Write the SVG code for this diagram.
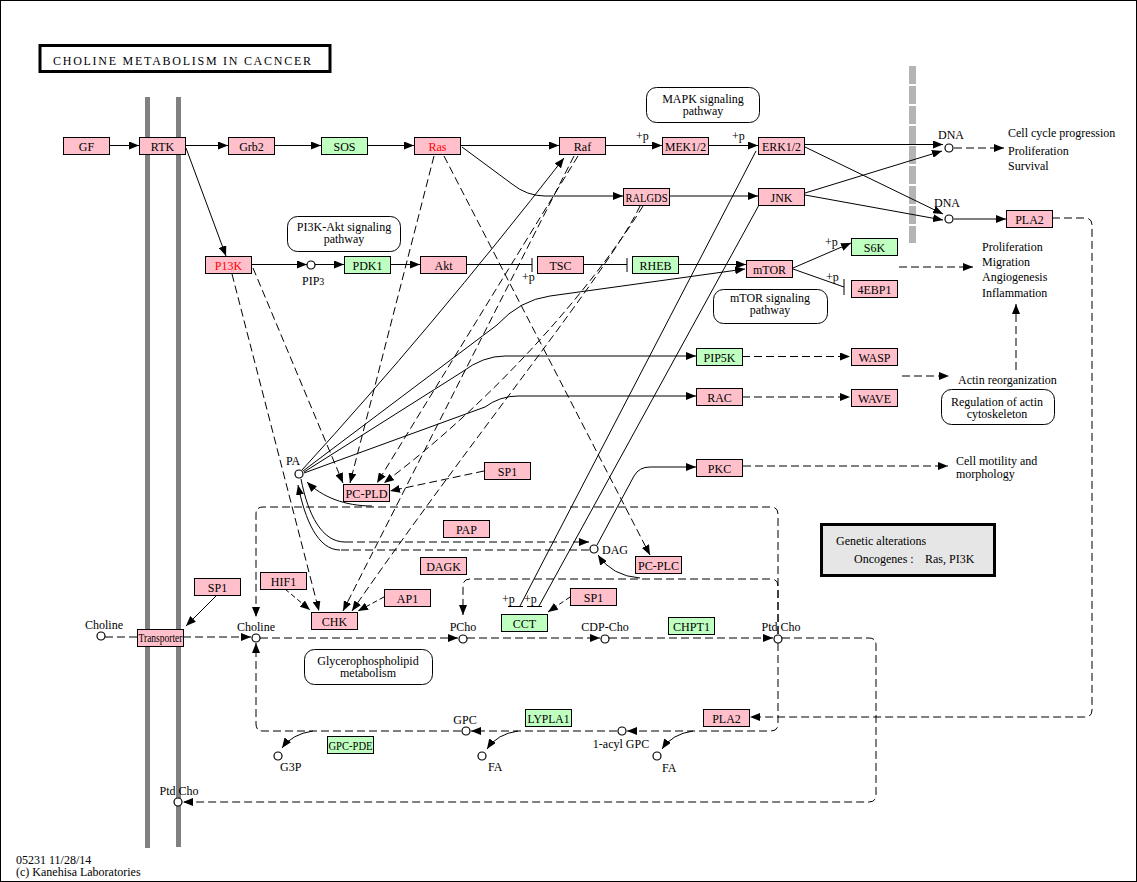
<svg xmlns="http://www.w3.org/2000/svg" width="1137" height="882" viewBox="0 0 1137 882">
<defs>
<marker id="a" viewBox="0 0 10 8" refX="10" refY="4" markerWidth="10" markerHeight="8" orient="auto" markerUnits="userSpaceOnUse"><path d="M0,0L10,4L0,8z" fill="#000"/></marker>
</defs>
<style>
text{font-family:"Liberation Serif","Times New Roman",serif;font-size:12px;fill:#000}
.n rect{stroke:#000;stroke-width:1}
.p rect{fill:#ffc0cb}
.q rect{fill:#bfffbf}
.n text,.pw text,.cl{text-anchor:middle}
.c path{fill:none;stroke:#000;stroke-width:1}
.c .d{stroke-dasharray:8,4}
.c .s{stroke-dasharray:5,3}
.c .ar{marker-end:url(#a)}
.pw rect{fill:#fff;stroke:#000;stroke-width:1}
.cp circle{fill:#fff;stroke:#000;stroke-width:1.2}
.red{fill:#f00}
</style>
<rect x="0.5" y="0.5" width="1136" height="881" fill="#fff" stroke="#000"/>
<g id="membranes">
<rect x="145" y="97" width="5" height="751" fill="#808080"/>
<rect x="176" y="97" width="5" height="750" fill="#808080"/>
<line x1="912.5" y1="66" x2="912.5" y2="243" stroke="#b4b4b4" stroke-width="7" stroke-dasharray="18,2"/>
</g>
<g id="title"><rect x="40" y="45.5" width="290" height="26" fill="#fff" stroke="#000" stroke-width="3"/><text x="53" y="65" font-size="13" textLength="258" lengthAdjust="spacing">CHOLINE METABOLISM IN CACNCER</text></g>
<g id="connectors" class="c">
<path class="ar" d="M109,145.5H139"/>
<path class="ar" d="M185,145.5H228"/>
<path class="ar" d="M274,145.5H321"/>
<path class="ar" d="M367,145.5H414"/>
<path class="ar" d="M460,145.5H559"/>
<path class="ar" d="M605,145.5H662"/>
<path class="ar" d="M708,145.5H758"/>
<path class="ar" d="M804,144.5H943"/>
<path class="ar" d="M805,147L943,214"/>
<path class="ar" d="M805,193L942,151"/>
<path class="ar" d="M805,195L943,220"/>
<path class="d ar" d="M954,148H1004"/>
<path class="ar" d="M954,219H1006"/>
<path class="ar" d="M462,147L512,184Q527,196 545,196H623"/>
<path class="ar" d="M669,196H758"/>
<path class="ar" d="M186,148L226,256"/>
<path class="ar" d="M251,264.5H307"/>
<path class="ar" d="M315,264.5H344"/>
<path class="ar" d="M390,264.5H420"/>
<path d="M466,264.5H532M532,258V272"/>
<path d="M583,264.5H627M627,258V272"/>
<path class="ar" d="M678,264.5H746"/>
<path class="ar" d="M793,268L851,243"/>
<path d="M793,269L844,287M844,279V295"/>
<path class="d ar" d="M899,267H973"/>
<path class="d ar" d="M1016,370V304"/>
<path class="d ar" d="M742,356.5H850"/>
<path class="d ar" d="M742,397H850"/>
<path class="d ar" d="M902,376H949"/>
<path class="d ar" d="M743,466H948"/>
<path class="d ar" d="M253,268L343,483"/>
<path class="d ar" d="M232,274L319,611"/>
<path class="d ar" d="M434,156L350,483"/>
<path class="d ar" d="M444,156L650,555"/>
<path class="d ar" d="M578,156L377,483"/>
<path class="d ar" d="M574,156L343,611"/>
<path class="d ar" d="M643,206C610,260 520,380 384,483"/>
<path class="d ar" d="M640,206C610,270 470,440 352,611"/>
<path class="ar" d="M302,470Q430,330 564,158"/>
<path class="ar" d="M303,471L497,325Q520,300 550,296L745,269"/>
<path class="ar" d="M304,472L462,372Q483,356 505,356H696"/>
<path class="ar" d="M304,473L485,407Q500,396 518,396H696"/>
<path class="ar" d="M372,506C345,506 322,497 307,482"/>
<path d="M301,479C308,515 322,542 345,542"/>
<path class="d ar" d="M345,542H589"/>
<path class="d" d="M589,550H340"/>
<path class="ar" d="M340,550C318,550 305,520 298,485"/>
<path class="ar" d="M640,578Q612,576 598,555"/>
<path class="ar" d="M597,545L634,476Q639,467 650,467H696"/>
<path class="d ar" d="M484,471L390,491"/>
<path class="d ar" d="M778,634V514Q778,507 771,507H263Q256,507 256,514V617"/>
<path class="d ar" d="M778,634V586Q778,579 771,579H470Q463,579 463,586V615"/>
<path class="d" d="M105,637H137"/>
<path class="d ar" d="M183,637H251"/>
<path class="d ar" d="M260,638H458"/>
<path class="d ar" d="M467,638H600"/>
<path class="d ar" d="M609,638H773"/>
<path class="d ar" d="M782,638H869Q876,638 876,645V795Q876,802 869,802H183"/>
<path class="d ar" d="M778,643V724Q778,731 771,731H627"/>
<path class="d ar" d="M617,731H471"/>
<path class="d ar" d="M461,731H263Q256,731 256,724V643"/>
<path class="ar" d="M313,731Q292,734 282,748"/>
<path class="ar" d="M518,731Q497,734 487,749"/>
<path class="ar" d="M693,731Q672,734 662,749"/>
<path class="d ar" d="M1052,218H1085Q1092,218 1092,225V710Q1092,717 1085,717H750"/>
<path class="ar" d="M217,595L186,626"/>
<path class="s ar" d="M285,589L310,610"/>
<path class="s ar" d="M384,597L358,611"/>
<path class="s ar" d="M570,597L548,612"/>
<path d="M756,151L520,606M508,606.5H523"/>
<path d="M759,205L539,606M527,606.5H542"/>
</g>
<g id="labels-p">
<text x="636" y="140">+p</text>
<text x="732" y="140">+p</text>
<text x="522" y="281">+p</text>
<text x="825" y="246">+p</text>
<text x="826" y="281">+p</text>
<text x="502" y="603">+p</text>
<text x="524" y="603">+p</text>
</g>
<g id="n_gf" class="n p"><rect x="63.5" y="137.5" width="46" height="17"/><text x="86.5" y="150.5">GF</text></g>
<g id="n_rtk" class="n p"><rect x="139.5" y="137.5" width="46" height="17"/><text x="162.5" y="150.5">RTK</text></g>
<g id="n_grb2" class="n p"><rect x="228.5" y="137.5" width="46" height="17"/><text x="251.5" y="150.5">Grb2</text></g>
<g id="n_sos" class="n q"><rect x="321.5" y="137.5" width="46" height="17"/><text x="344.5" y="150.5">SOS</text></g>
<g id="n_ras" class="n p"><rect x="414.5" y="137.5" width="46" height="17"/><text x="437.5" y="150.5" class="red">Ras</text></g>
<g id="n_raf" class="n p"><rect x="559.5" y="137.5" width="46" height="17"/><text x="582.5" y="150.5">Raf</text></g>
<g id="n_mek" class="n p"><rect x="662.5" y="137.5" width="46" height="17"/><text x="685.5" y="150.5" textLength="41" lengthAdjust="spacingAndGlyphs">MEK1/2</text></g>
<g id="n_erk" class="n p"><rect x="758.5" y="137.5" width="46" height="17"/><text x="781.5" y="150.5" textLength="39" lengthAdjust="spacingAndGlyphs">ERK1/2</text></g>
<g id="n_ralgds" class="n p"><rect x="623.5" y="188.5" width="46" height="17"/><text x="646.5" y="201.5" textLength="42" lengthAdjust="spacingAndGlyphs">RALGDS</text></g>
<g id="n_jnk" class="n p"><rect x="758.5" y="188.5" width="46" height="17"/><text x="781.5" y="201.5">JNK</text></g>
<g id="n_pi3k" class="n p"><rect x="205.5" y="256.5" width="46" height="17"/><text x="228.5" y="269.5" class="red">P13K</text></g>
<g id="n_pdk1" class="n q"><rect x="344.5" y="256.5" width="46" height="17"/><text x="367.5" y="269.5">PDK1</text></g>
<g id="n_akt" class="n p"><rect x="420.5" y="256.5" width="46" height="17"/><text x="443.5" y="269.5">Akt</text></g>
<g id="n_tsc" class="n p"><rect x="537.5" y="256.5" width="46" height="17"/><text x="560.5" y="269.5">TSC</text></g>
<g id="n_rheb" class="n q"><rect x="632.5" y="256.5" width="46" height="17"/><text x="655.5" y="269.5">RHEB</text></g>
<g id="n_mtor" class="n p"><rect x="746.5" y="260.5" width="46" height="17"/><text x="769.5" y="273.5">mTOR</text></g>
<g id="n_s6k" class="n q"><rect x="851.5" y="238.5" width="46" height="17"/><text x="874.5" y="251.5">S6K</text></g>
<g id="n_4ebp1" class="n p"><rect x="851.5" y="280.5" width="46" height="17"/><text x="874.5" y="293.5">4EBP1</text></g>
<g id="n_pla2a" class="n p"><rect x="1006.5" y="210.5" width="46" height="17"/><text x="1029.5" y="223.5">PLA2</text></g>
<g id="n_pip5k" class="n q"><rect x="696.5" y="348.5" width="46" height="17"/><text x="719.5" y="361.5">PIP5K</text></g>
<g id="n_rac" class="n p"><rect x="696.5" y="388.5" width="46" height="17"/><text x="719.5" y="401.5">RAC</text></g>
<g id="n_wasp" class="n p"><rect x="851.5" y="348.5" width="46" height="17"/><text x="874.5" y="361.5">WASP</text></g>
<g id="n_wave" class="n p"><rect x="851.5" y="389.5" width="46" height="17"/><text x="874.5" y="402.5">WAVE</text></g>
<g id="n_pkc" class="n p"><rect x="696.5" y="459.5" width="46" height="17"/><text x="719.5" y="472.5">PKC</text></g>
<g id="n_sp1a" class="n p"><rect x="484.5" y="462.5" width="46" height="17"/><text x="507.5" y="475.5">SP1</text></g>
<g id="n_pcpld" class="n p"><rect x="343.5" y="484.5" width="46" height="17"/><text x="366.5" y="497.5" textLength="42" lengthAdjust="spacingAndGlyphs">PC-PLD</text></g>
<g id="n_pap" class="n p"><rect x="443.5" y="520.5" width="46" height="17"/><text x="466.5" y="533.5">PAP</text></g>
<g id="n_dagk" class="n p"><rect x="420.5" y="557.5" width="46" height="17"/><text x="443.5" y="570.5">DAGK</text></g>
<g id="n_pcplc" class="n p"><rect x="635.5" y="556.5" width="46" height="17"/><text x="658.5" y="569.5" textLength="41" lengthAdjust="spacingAndGlyphs">PC-PLC</text></g>
<g id="n_hif1" class="n p"><rect x="260.5" y="572.5" width="46" height="17"/><text x="283.5" y="585.5">HIF1</text></g>
<g id="n_sp1b" class="n p"><rect x="194.5" y="578.5" width="46" height="17"/><text x="217.5" y="591.5">SP1</text></g>
<g id="n_chk" class="n p"><rect x="311.5" y="612.5" width="46" height="17"/><text x="334.5" y="625.5">CHK</text></g>
<g id="n_ap1" class="n p"><rect x="384.5" y="589.5" width="46" height="17"/><text x="407.5" y="602.5">AP1</text></g>
<g id="n_cct" class="n q"><rect x="501.5" y="614.5" width="46" height="17"/><text x="524.5" y="627.5">CCT</text></g>
<g id="n_sp1c" class="n p"><rect x="570.5" y="588.5" width="46" height="17"/><text x="593.5" y="601.5">SP1</text></g>
<g id="n_chpt1" class="n q"><rect x="668.5" y="617.5" width="46" height="17"/><text x="691.5" y="630.5" textLength="37" lengthAdjust="spacingAndGlyphs">CHPT1</text></g>
<g id="n_transporter" class="n p"><rect x="137.5" y="629.5" width="46" height="17"/><text x="160.5" y="642" font-size="11" textLength="44" lengthAdjust="spacingAndGlyphs">Transporter</text></g>
<g id="n_lypla1" class="n q"><rect x="525.5" y="709.5" width="46" height="17"/><text x="548.5" y="722.5" textLength="42" lengthAdjust="spacingAndGlyphs">LYPLA1</text></g>
<g id="n_pla2b" class="n p"><rect x="703.5" y="709.5" width="46" height="17"/><text x="726.5" y="722.5">PLA2</text></g>
<g id="n_gpcpde" class="n q"><rect x="327.5" y="736.5" width="46" height="17"/><text x="350.5" y="749.5" textLength="44" lengthAdjust="spacingAndGlyphs">GPC-PDE</text></g>
<g id="pw_mapk" class="pw"><rect x="646.5" y="87.5" width="113" height="35" rx="10"/><text x="703" y="103">MAPK signaling</text><text x="703" y="115">pathway</text></g>
<g id="pw_pi3k" class="pw"><rect x="287.5" y="216.5" width="113" height="35" rx="10"/><text x="344" y="231">PI3K-Akt signaling</text><text x="344" y="243">pathway</text></g>
<g id="pw_mtor" class="pw"><rect x="713.5" y="289.5" width="114" height="34" rx="10"/><text x="770" y="302">mTOR signaling</text><text x="770" y="314">pathway</text></g>
<g id="pw_glycero" class="pw"><rect x="304.5" y="649.5" width="128" height="35" rx="10"/><text x="368" y="665">Glycerophospholipid</text><text x="368" y="677">metabolism</text></g>
<g id="pw_actin" class="pw"><rect x="941.5" y="389.5" width="113" height="35" rx="10"/><text x="997" y="406">Regulation of actin</text><text x="997" y="418">cytoskeleton</text></g>
<g id="compounds" class="cp">
<circle cx="311" cy="265" r="4"/>
<circle cx="949" cy="148" r="4"/>
<circle cx="949" cy="219" r="4"/>
<circle cx="299" cy="474" r="4"/>
<circle cx="594" cy="549" r="4"/>
<circle cx="101" cy="636" r="4"/>
<circle cx="256" cy="638" r="4"/>
<circle cx="463" cy="639" r="4"/>
<circle cx="605" cy="639" r="4"/>
<circle cx="778" cy="639" r="4"/>
<circle cx="466" cy="731" r="4"/>
<circle cx="622" cy="731" r="4"/>
<circle cx="482" cy="756" r="4"/>
<circle cx="657" cy="756" r="4"/>
<circle cx="278" cy="756" r="4"/>
<circle cx="178" cy="802" r="4"/>
</g>
<g id="compound-labels">
<text x="302" y="285">PIP<tspan font-size="10">3</tspan></text>
<text x="938" y="139">DNA</text>
<text x="934" y="207">DNA</text>
<text x="286" y="465">PA</text>
<text x="602" y="554">DAG</text>
<text class="cl" x="104" y="629">Choline</text>
<text class="cl" x="256" y="631">Choline</text>
<text class="cl" x="463" y="631">PCho</text>
<text class="cl" x="605" y="631">CDP-Cho</text>
<text class="cl" x="781" y="631">Ptd Cho</text>
<text class="cl" x="465" y="724">GPC</text>
<text class="cl" x="621" y="748">1-acyl GPC</text>
<text x="488" y="771">FA</text>
<text x="662" y="772">FA</text>
<text x="280" y="771">G3P</text>
<text class="cl" x="179" y="795">Ptd Cho</text>
</g>
<g id="outcomes">
<text x="1008" y="137">Cell cycle progression</text>
<text x="1008" y="155">Proliferation</text>
<text x="1008" y="170">Survival</text>
<text x="982" y="251">Proliferation</text>
<text x="982" y="266">Migration</text>
<text x="982" y="281">Angiogenesis</text>
<text x="982" y="297">Inflammation</text>
<text x="958" y="384">Actin reorganization</text>
<text x="956" y="465" font-size="11.5">Cell motility and</text>
<text x="956" y="478" font-size="11.5">morphology</text>
</g>
<g id="genetic"><rect x="821.5" y="524.5" width="173" height="51" fill="#e6e6e6" stroke="#000" stroke-width="3"/><text x="836" y="545">Genetic alterations</text><text x="854" y="563">Oncogenes :</text><text x="925" y="563">Ras, PI3K</text></g>
<g id="footer"><text x="16" y="864">05231 11/28/14</text><text x="16" y="876">(c) Kanehisa Laboratories</text></g>
</svg>
